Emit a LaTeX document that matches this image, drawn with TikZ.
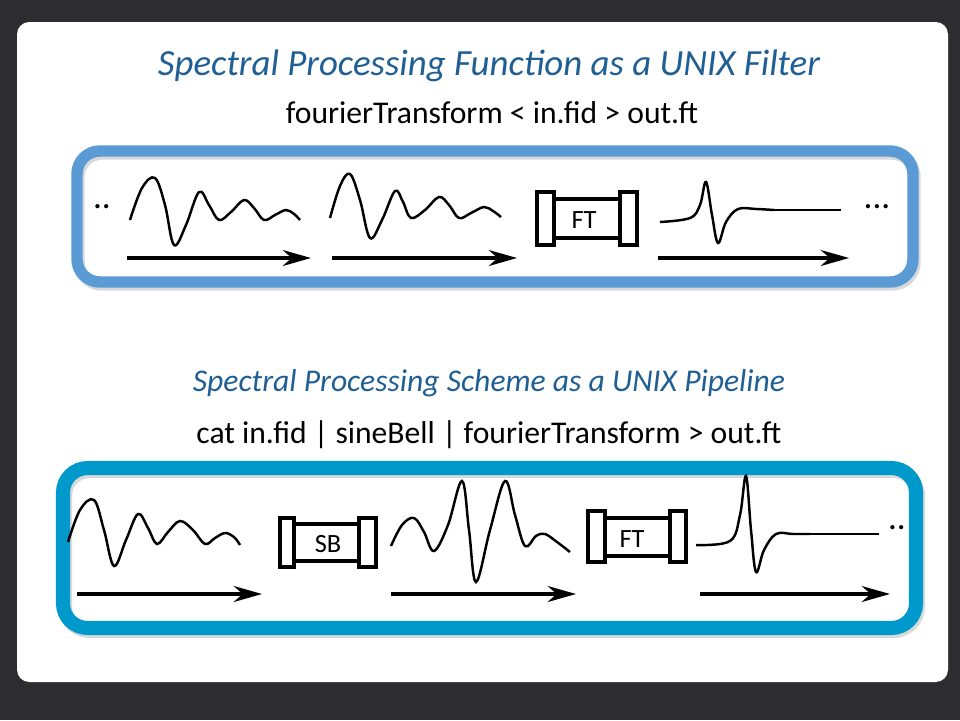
\documentclass[tikz,border=0pt]{standalone}
\usepackage{fontspec}
\setmainfont{Carlito}
\usetikzlibrary{arrows.meta}
\definecolor{slate}{HTML}{2D2D30}
\definecolor{titleblue}{HTML}{1F5F94}
\definecolor{panelA}{HTML}{5B9BD5}
\definecolor{panelB}{HTML}{0099CC}
\begin{document}
\begin{tikzpicture}[x=0.02cm,y=-0.02cm]
	\tikzstyle{wave}=[black, line width=1.4pt, smooth, tension=0.6]
	\tikzstyle{axis}=[black, line width=2.2pt, -{Stealth[length=16pt,width=9pt,inset=5pt]}]
	\tikzstyle{flange}=[draw=black, fill=white, line width=1.8pt]
	\tikzstyle{title}=[font=\fontsize{21}{24}\selectfont\itshape, text=titleblue, inner sep=0pt]
	\tikzstyle{cmd}=[font=\fontsize{18}{21}\selectfont, inner sep=0pt]
	\tikzstyle{tag}=[font=\fontsize{15}{17}\selectfont, inner sep=0pt]
	\tikzstyle{dots}=[font=\fontsize{20}{20}\selectfont, inner sep=0pt]
	\useasboundingbox (0,0) rectangle (960,720);
	\fill [slate] (0,0) rectangle (960,720);
	\fill [white, rounded corners=7pt] (17,22) rectangle (948,682);
	% titles
	\node [title] (t1) at (489,66) {Spectral Processing Function as a UNIX Filter};
	\node [cmd] (c1) at (492,113) {fourierTransform < in.fid > out.ft};
	\node [title, font=\fontsize{18}{21}\selectfont\itshape] (t2) at (489,383) {Spectral Processing Scheme as a UNIX Pipeline};
	\node [cmd] (c2) at (489,435) {cat in.fid | sineBell | fourierTransform > out.ft};
	% panels
	\draw [black!15, line width=6.5pt, rounded corners=13pt] (79,154) rectangle (915,285);
	\draw [panelA, line width=6.5pt, rounded corners=13pt] (77,151) rectangle (913,282);
	\draw [black!15, line width=8pt, rounded corners=14pt] (65,471) rectangle (918,631);
	\draw [panelB, line width=8pt, rounded corners=14pt] (63,468) rectangle (916,628);
	% filter panel
	\node [dots] (d1) at (102,207) {..};
	\draw [wave] plot coordinates {(130,220) (142,188) (155,178) (165,205) (174,245) (186,225) (199,192) (209,205) (219,220) (231,212) (244,200) (254,208) (264,220) (275,215) (286,210) (294,214) (300,220)};
	\draw [wave] plot coordinates {(330,218) (340,186) (350,174) (360,200) (370,238) (382,220) (395,191) (403,202) (411,218) (425,210) (439,197) (449,205) (459,218) (471,213) (484,207) (493,211) (501,217)};
	\draw [flange] (554,199) rectangle (620,238);
	\draw [flange] (537,192) rectangle (554,245);
	\draw [flange] (620,192) rectangle (637,245);
	\node [tag] (ft1) at (584,220) {FT};
	\draw [wave] plot coordinates {(660,222) (690,218) (700,205) (706,182) (712,215) (718,243) (726,222) (738,209) (756,209) (774,210)};
	\draw [black, line width=1.4pt] (774,210) -- (841,210);
	\node [dots] (d2) at (877,207) {...};
	\coordinate (a1s) at (127,258); \coordinate (a1e) at (311,258);
	\coordinate (a2s) at (332,258); \coordinate (a2e) at (517,258);
	\coordinate (a3s) at (658,258); \coordinate (a3e) at (849,258);
	\draw [axis] (a1s) -- (a1e);
	\draw [axis] (a2s) -- (a2e);
	\draw [axis] (a3s) -- (a3e);
	% pipeline panel
	\draw [wave] plot coordinates {(68,542) (80,510) (94,500) (104,530) (114,566) (126,540) (138,514) (148,528) (157,544) (168,532) (180,521) (193,530) (205,544) (215,538) (225,533) (234,537) (240,545)};
	\draw [flange] (294,524) rectangle (359,561);
	\draw [flange] (280,518) rectangle (294,567);
	\draw [flange] (359,518) rectangle (376,567);
	\node [tag] (sb) at (328,544) {SB};
	\draw [wave] plot coordinates {(391,546) (402,525) (414,518) (424,532) (434,551) (448,525) (462,481) (469,530) (476,582) (490,530) (505,481) (515,515) (525,546) (536,536) (545,534) (557,542) (570,552)};
	\draw [flange] (605,518) rectangle (670,556);
	\draw [flange] (588,511) rectangle (605,562);
	\draw [flange] (670,511) rectangle (686,562);
	\node [tag] (ft2) at (632,539) {FT};
	\draw [wave] plot coordinates {(696,545) (730,541) (740,515) (746,476) (751,530) (756,572) (764,550) (776,534) (793,534) (810,534)};
	\draw [black, line width=1.4pt] (810,534) -- (879,534);
	\node [dots] (d3) at (897,528) {..};
	\coordinate (b1s) at (77,594); \coordinate (b1e) at (262,594);
	\coordinate (b2s) at (391,594); \coordinate (b2e) at (576,594);
	\coordinate (b3s) at (700,594); \coordinate (b3e) at (890,594);
	\draw [axis] (b1s) -- (b1e);
	\draw [axis] (b2s) -- (b2e);
	\draw [axis] (b3s) -- (b3e);
\end{tikzpicture}
\end{document}
